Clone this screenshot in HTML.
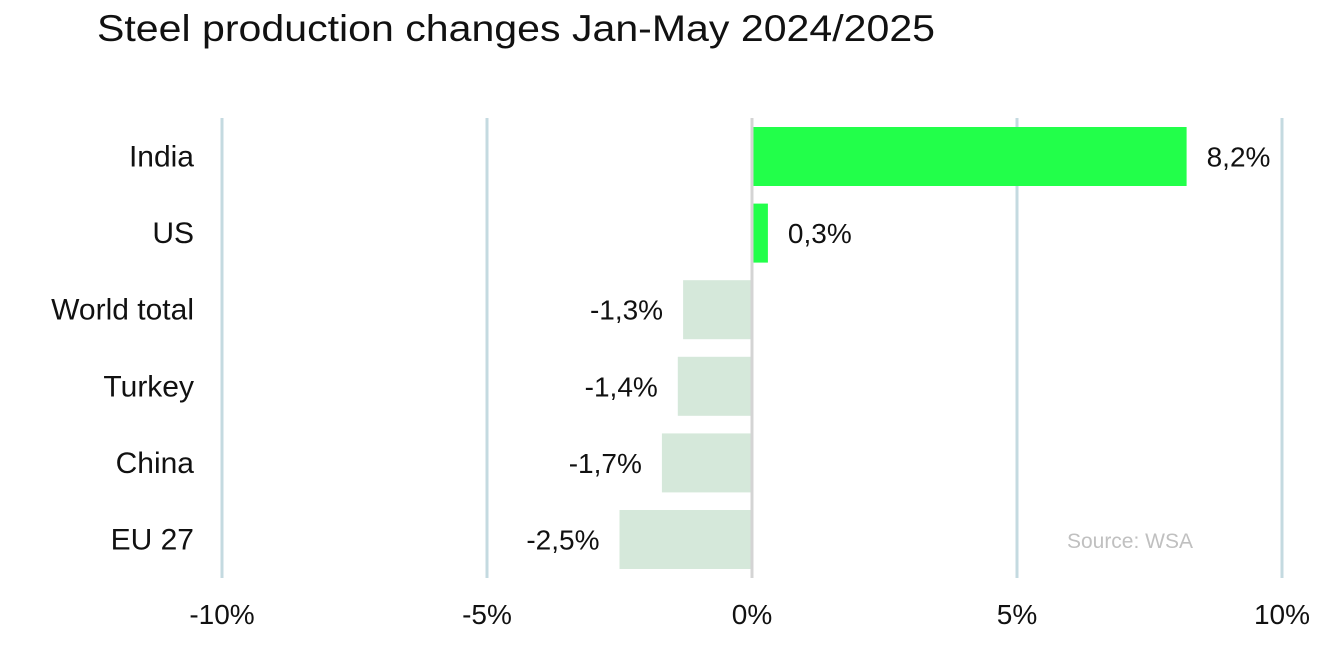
<!DOCTYPE html>
<html><head><meta charset="utf-8"><style>
body{margin:0;background:#fff;width:1339px;height:661px;overflow:hidden;font-family:"Liberation Sans",sans-serif}
</style></head><body>
<svg width="1339" height="661">
<text x="97" y="41" font-size="37" fill="#111" textLength="838" lengthAdjust="spacingAndGlyphs">Steel production changes Jan-May 2024/2025</text>
<g id="grid"></g><g id="bars"></g><g id="labels"></g>
<text x="1193" y="548" font-size="21" fill="#c0c0c0" text-anchor="end">Source: WSA</text>
</svg>
<script>
const categories=["India","US","World total","Turkey","China","EU 27"];
const values=[8.2,0.3,-1.3,-1.4,-1.7,-2.5];
const valueLabels=["8,2%","0,3%","-1,3%","-1,4%","-1,7%","-2,5%"];
const ticks=[-10,-5,0,5,10];
const tickLabels=["-10%","-5%","0%","5%","10%"];
const NS="http://www.w3.org/2000/svg";
const x=v=>752+v*53;
const yTop=i=>127+i*76.6;
const bh=59;
function mk(tag,attrs,parent,txt){const e=document.createElementNS(NS,tag);for(const k in attrs)e.setAttribute(k,attrs[k]);if(txt!==undefined)e.textContent=txt;document.getElementById(parent).appendChild(e);return e;}
ticks.forEach((t,i)=>{
 const l=mk("line",{x1:x(t),x2:x(t),y1:118,y2:578,stroke:t===0?"#d4d4d4":"#c4dae0","stroke-width":3},"grid");
 
 
 const tx=mk("text",{x:x(t),y:624,"font-size":28,"text-anchor":"middle",fill:"#111"},"grid",tickLabels[i]);
 
 
});
categories.forEach((c,i)=>{
 const v=values[i];
 const r=mk("rect",{x:Math.min(x(0),x(v))+(v>=0?1.5:0),y:yTop(i),width:Math.abs(x(v)-x(0))-1.5,height:bh,fill:v>=0?"#22ff4a":"#d5e8da"},"bars");
 
 
 const cl=mk("text",{x:194,y:yTop(i)+bh/2+10,"font-size":30,"text-anchor":"end",fill:"#111"},"labels",c);
 
 
 const vl=mk("text",{x:v>=0?x(v)+20:x(v)-20,y:yTop(i)+bh/2+10,"font-size":28,"text-anchor":v>=0?"start":"end",fill:"#111"},"labels",valueLabels[i]);
 
 
});
</script>
</body></html>
